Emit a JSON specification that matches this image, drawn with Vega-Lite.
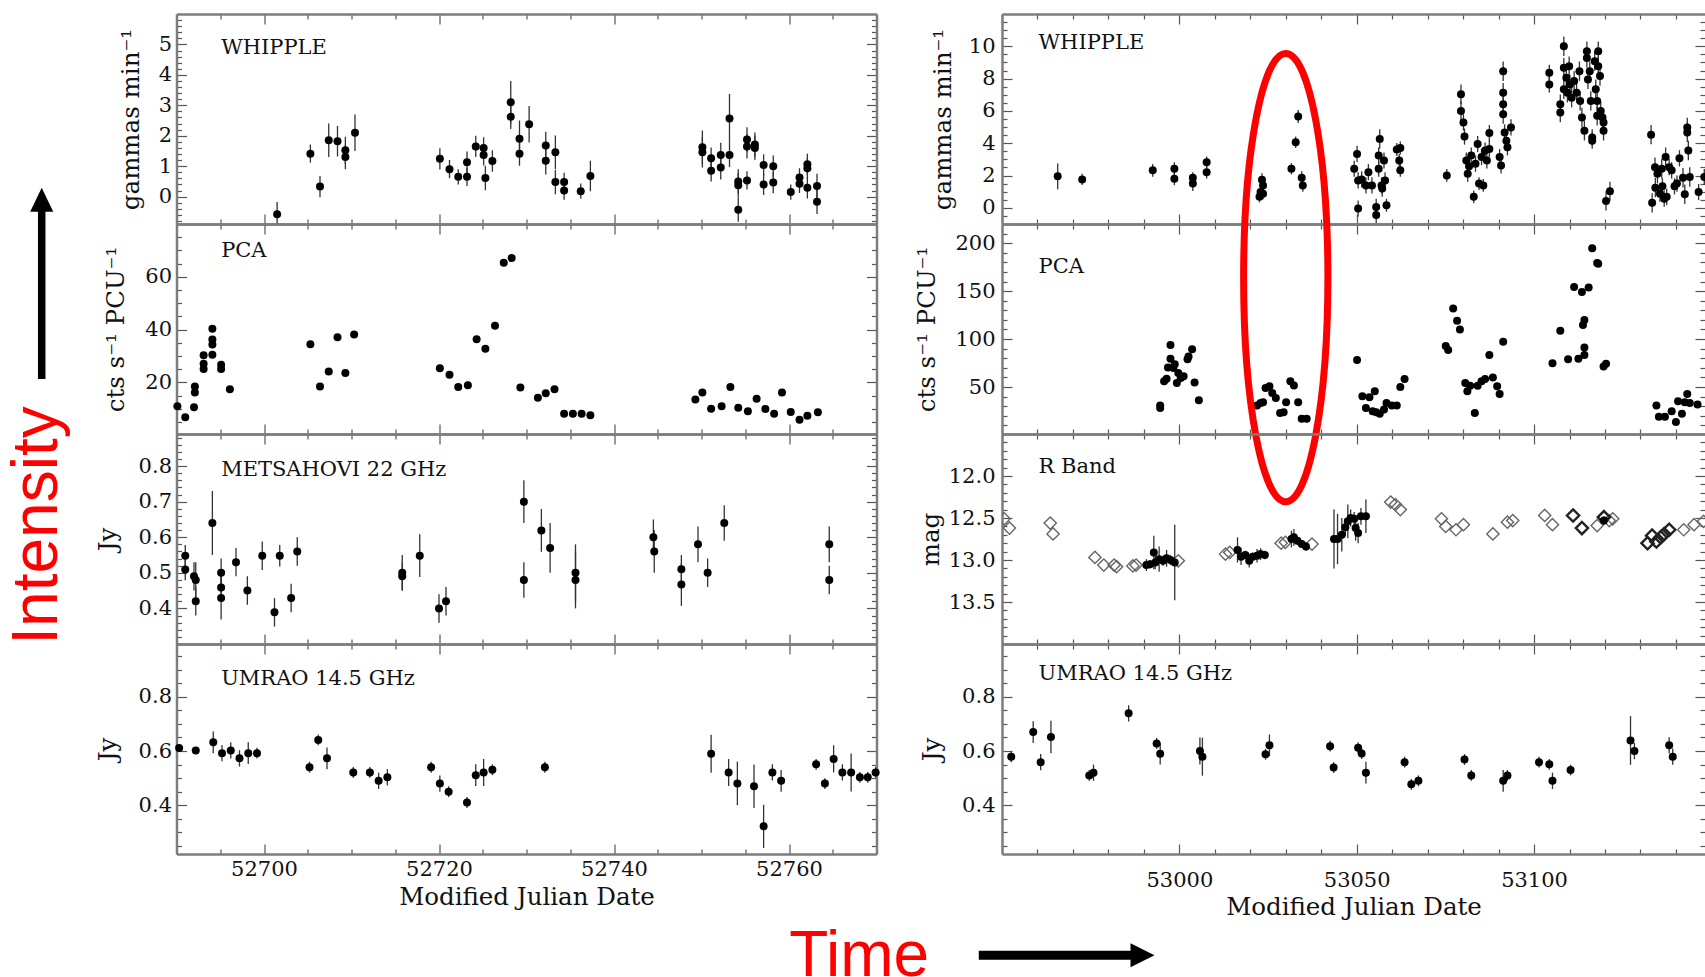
{
"$schema": "https://vega.github.io/schema/vega-lite/v6.json",
"padding": {"left": 0, "top": 9, "right": 0, "bottom": 0},
"background": "white",
"config": {
  "view": {"stroke": null},
  "axis": {"domainColor": "#7d7d7d", "domainWidth": 2.5, "tickColor": "#555", "tickWidth": 1.2, "labelFont": "DejaVu Serif", "labelFontSize": 21, "labelColor": "#111", "titleFont": "DejaVu Serif", "titleFontSize": 24.5, "titleFontWeight": "normal", "titleColor": "#111", "grid": false, "labelOverlap": false, "labelFlush": false, "labelBound": false}
},
"datasets": {
"lw": [
{"t":52701.5,"v":-0.58,"e":0.4},{"t":52705.3,"v":1.41,"e":0.3},{"t":52706.4,"v":0.33,"e":0.35},{"t":52707.4,"v":1.85,"e":0.55},{"t":52708.4,"v":1.82,"e":0.5},{"t":52709.3,"v":1.52,"e":0.45},{"t":52709.3,"v":1.30,"e":0.4},{"t":52710.4,"v":2.10,"e":0.6},
{"t":52720.1,"v":1.24,"e":0.35},{"t":52721.2,"v":0.90,"e":0.3},{"t":52722.2,"v":0.65,"e":0.25},{"t":52723.2,"v":0.65,"e":0.3},{"t":52723.2,"v":1.13,"e":0.35},{"t":52724.2,"v":1.65,"e":0.35},{"t":52725.1,"v":1.60,"e":0.35},{"t":52725.1,"v":1.37,"e":0.35},{"t":52725.3,"v":0.61,"e":0.4},{"t":52726.1,"v":1.17,"e":0.35},
{"t":52728.2,"v":3.10,"e":0.7},{"t":52728.2,"v":2.62,"e":0.4},{"t":52729.2,"v":1.90,"e":0.6},{"t":52729.2,"v":1.41,"e":0.4},{"t":52730.3,"v":2.38,"e":0.6},{"t":52732.2,"v":1.68,"e":0.45},{"t":52732.2,"v":1.18,"e":0.45},{"t":52733.3,"v":1.46,"e":0.55},{"t":52733.3,"v":0.48,"e":0.4},{"t":52734.3,"v":0.48,"e":0.3},{"t":52734.3,"v":0.20,"e":0.3},{"t":52736.2,"v":0.18,"e":0.25},{"t":52737.3,"v":0.68,"e":0.5},
{"t":52750.1,"v":1.62,"e":0.55},{"t":52750.1,"v":1.46,"e":0.5},{"t":52751.1,"v":1.26,"e":0.35},{"t":52751.1,"v":0.85,"e":0.35},{"t":52752.2,"v":1.37,"e":0.4},{"t":52752.2,"v":0.96,"e":0.4},{"t":52753.2,"v":2.57,"e":0.8},{"t":52753.2,"v":1.37,"e":0.4},{"t":52754.2,"v":0.37,"e":0.4},{"t":52754.2,"v":0.50,"e":0.4},{"t":52754.2,"v":-0.43,"e":0.4},{"t":52755.2,"v":1.88,"e":0.4},{"t":52755.2,"v":1.65,"e":0.4},{"t":52755.2,"v":0.53,"e":0.3},{"t":52756.1,"v":1.71,"e":0.4},{"t":52756.1,"v":1.60,"e":0.4},{"t":52757.1,"v":1.04,"e":0.35},{"t":52757.1,"v":0.40,"e":0.35},{"t":52758.2,"v":1.00,"e":0.35},{"t":52758.2,"v":0.46,"e":0.35},{"t":52760.2,"v":0.15,"e":0.25},{"t":52761.2,"v":0.42,"e":0.3},{"t":52761.2,"v":0.63,"e":0.3},{"t":52762.1,"v":1.06,"e":0.35},{"t":52762.1,"v":0.93,"e":0.35},{"t":52762.1,"v":0.29,"e":0.35},{"t":52763.2,"v":0.35,"e":0.4},{"t":52763.2,"v":-0.17,"e":0.4}
],
"lp": [
{"t":52690.1,"v":11.0},{"t":52691.0,"v":6.8},{"t":52692.0,"v":10.6},{"t":52692.1,"v":16.2},{"t":52692.1,"v":18.5},{"t":52693.1,"v":25.1},{"t":52693.1,"v":27.1},{"t":52693.1,"v":30.3},{"t":52694.1,"v":30.5},{"t":52694.1,"v":34.4},{"t":52694.1,"v":36.3},{"t":52694.1,"v":40.3},{"t":52695.1,"v":26.7},{"t":52695.1,"v":25.1},{"t":52696.1,"v":17.4},
{"t":52705.3,"v":34.5},{"t":52706.4,"v":18.5},{"t":52707.4,"v":24.2},{"t":52708.4,"v":37.1},{"t":52709.3,"v":23.6},{"t":52710.3,"v":38.2},
{"t":52720.1,"v":25.4},{"t":52721.2,"v":22.9},{"t":52722.2,"v":18.3},{"t":52723.3,"v":19.0},{"t":52724.3,"v":36.4},{"t":52725.3,"v":32.8},{"t":52726.4,"v":41.5},{"t":52727.4,"v":65.3},{"t":52728.3,"v":67.1},{"t":52729.3,"v":18.1},{"t":52731.3,"v":14.2},{"t":52732.2,"v":15.9},{"t":52733.2,"v":17.4},{"t":52734.3,"v":8.2},{"t":52735.3,"v":8.2},{"t":52736.3,"v":8.2},{"t":52737.3,"v":7.6},
{"t":52749.3,"v":13.6},{"t":52750.1,"v":16.2},{"t":52751.1,"v":10.1},{"t":52752.3,"v":11.0},{"t":52753.3,"v":18.3},{"t":52754.2,"v":10.4},{"t":52755.3,"v":9.1},{"t":52756.3,"v":13.8},{"t":52757.3,"v":10.0},{"t":52758.3,"v":8.2},{"t":52759.2,"v":16.2},{"t":52760.2,"v":8.8},{"t":52761.2,"v":5.9},{"t":52762.1,"v":7.4},{"t":52763.3,"v":8.7}
],
"lm": [
{"t":52691.0,"v":0.548,"e":0.03},{"t":52691.0,"v":0.509,"e":0.03},{"t":52692.0,"v":0.490,"e":0.04},{"t":52692.2,"v":0.480,"e":0.05},{"t":52692.2,"v":0.420,"e":0.04},{"t":52694.1,"v":0.640,"e":0.09},{"t":52695.1,"v":0.500,"e":0.04},{"t":52695.1,"v":0.459,"e":0.04},{"t":52695.1,"v":0.429,"e":0.06},{"t":52696.8,"v":0.530,"e":0.04},{"t":52698.1,"v":0.450,"e":0.04},{"t":52699.8,"v":0.548,"e":0.04},{"t":52701.2,"v":0.389,"e":0.04},{"t":52701.8,"v":0.548,"e":0.03},{"t":52703.1,"v":0.429,"e":0.04},{"t":52703.8,"v":0.560,"e":0.04},
{"t":52715.8,"v":0.500,"e":0.05},{"t":52715.8,"v":0.490,"e":0.04},{"t":52717.8,"v":0.548,"e":0.06},{"t":52720.0,"v":0.400,"e":0.04},{"t":52720.8,"v":0.420,"e":0.04},
{"t":52729.7,"v":0.700,"e":0.06},{"t":52729.7,"v":0.480,"e":0.05},{"t":52731.7,"v":0.619,"e":0.06},{"t":52732.7,"v":0.570,"e":0.07},{"t":52735.6,"v":0.500,"e":0.08},{"t":52735.6,"v":0.480,"e":0.08},
{"t":52744.5,"v":0.600,"e":0.05},{"t":52744.6,"v":0.560,"e":0.06},{"t":52747.7,"v":0.510,"e":0.04},{"t":52747.7,"v":0.467,"e":0.06},{"t":52749.6,"v":0.580,"e":0.05},{"t":52750.7,"v":0.500,"e":0.04},{"t":52752.6,"v":0.640,"e":0.05},{"t":52764.6,"v":0.580,"e":0.05},{"t":52764.6,"v":0.480,"e":0.04}
],
"lu": [
{"t":52690.3,"v":0.611,"e":0.01},{"t":52692.2,"v":0.602,"e":0.01},{"t":52694.2,"v":0.632,"e":0.04},{"t":52695.2,"v":0.592,"e":0.03},{"t":52696.2,"v":0.602,"e":0.03},{"t":52697.2,"v":0.573,"e":0.03},{"t":52698.2,"v":0.592,"e":0.04},{"t":52699.2,"v":0.592,"e":0.02},
{"t":52705.2,"v":0.540,"e":0.02},{"t":52706.2,"v":0.641,"e":0.02},{"t":52707.2,"v":0.573,"e":0.04},{"t":52710.2,"v":0.521,"e":0.02},{"t":52712.1,"v":0.521,"e":0.02},{"t":52713.1,"v":0.490,"e":0.03},{"t":52714.1,"v":0.503,"e":0.03},
{"t":52719.1,"v":0.540,"e":0.02},{"t":52720.1,"v":0.480,"e":0.03},{"t":52721.1,"v":0.450,"e":0.02},{"t":52723.2,"v":0.410,"e":0.02},{"t":52724.2,"v":0.511,"e":0.04},{"t":52725.1,"v":0.521,"e":0.05},{"t":52726.1,"v":0.531,"e":0.02},{"t":52732.1,"v":0.540,"e":0.02},
{"t":52751.1,"v":0.590,"e":0.07},{"t":52753.1,"v":0.521,"e":0.05},{"t":52754.1,"v":0.480,"e":0.08},{"t":52756.0,"v":0.470,"e":0.08},{"t":52757.1,"v":0.322,"e":0.08},{"t":52758.1,"v":0.521,"e":0.03},{"t":52759.1,"v":0.490,"e":0.04},
{"t":52763.1,"v":0.551,"e":0.02},{"t":52764.1,"v":0.480,"e":0.02},{"t":52765.1,"v":0.571,"e":0.05},{"t":52766.1,"v":0.521,"e":0.03},{"t":52767.1,"v":0.521,"e":0.07},{"t":52768.1,"v":0.503,"e":0.02},{"t":52769.0,"v":0.503,"e":0.02},{"t":52769.9,"v":0.521,"e":0.02}
],
"rw": [
{"t":52965.7,"v":1.95,"e":0.8},{"t":52972.6,"v":1.76,"e":0.35},{"t":52992.5,"v":2.32,"e":0.4},{"t":52998.6,"v":2.42,"e":0.4},{"t":52998.6,"v":1.80,"e":0.4},{"t":53003.8,"v":1.86,"e":0.35},{"t":53003.8,"v":1.50,"e":0.45},{"t":53007.7,"v":2.83,"e":0.35},{"t":53007.7,"v":2.21,"e":0.4},
{"t":53022.6,"v":0.68,"e":0.35},{"t":53022.9,"v":0.98,"e":0.35},{"t":53023.3,"v":1.74,"e":0.4},{"t":53023.6,"v":1.39,"e":0.4},{"t":53023.6,"v":0.88,"e":0.35},{"t":53031.6,"v":2.42,"e":0.35},{"t":53032.8,"v":4.06,"e":0.35},{"t":53033.5,"v":5.66,"e":0.4},{"t":53034.5,"v":1.86,"e":0.4},{"t":53034.8,"v":1.39,"e":0.4},
{"t":53049.3,"v":2.42,"e":0.5},{"t":53050.1,"v":3.34,"e":0.5},{"t":53050.4,"v":1.70,"e":0.5},{"t":53050.4,"v":-0.04,"e":0.5},{"t":53051.4,"v":1.76,"e":0.5},{"t":53052.6,"v":1.39,"e":0.5},{"t":53053.3,"v":2.21,"e":0.5},{"t":53054.3,"v":1.39,"e":0.5},{"t":53055.5,"v":0.06,"e":0.5},{"t":53055.5,"v":-0.45,"e":0.5},{"t":53056.2,"v":2.42,"e":0.5},{"t":53056.2,"v":3.24,"e":0.5},{"t":53056.5,"v":4.26,"e":0.6},{"t":53057.0,"v":1.39,"e":0.5},{"t":53057.2,"v":1.19,"e":0.5},{"t":53057.7,"v":2.93,"e":0.5},{"t":53058.0,"v":1.70,"e":0.5},{"t":53058.4,"v":0.16,"e":0.4},{"t":53061.3,"v":3.61,"e":0.4},{"t":53062.0,"v":2.93,"e":0.4},{"t":53062.3,"v":3.71,"e":0.4},{"t":53062.3,"v":2.32,"e":0.4},
{"t":53075.4,"v":2.01,"e":0.4},{"t":53079.4,"v":7.03,"e":0.6},{"t":53079.4,"v":6.00,"e":0.6},{"t":53080.1,"v":5.29,"e":0.5},{"t":53080.4,"v":4.41,"e":0.5},{"t":53080.9,"v":2.93,"e":0.5},{"t":53081.3,"v":2.11,"e":0.5},{"t":53081.7,"v":2.58,"e":0.5},{"t":53082.3,"v":3.24,"e":0.5},{"t":53083.0,"v":0.68,"e":0.4},{"t":53083.5,"v":2.73,"e":0.5},{"t":53084.1,"v":3.95,"e":0.5},{"t":53084.5,"v":1.50,"e":0.4},{"t":53085.2,"v":3.14,"e":0.5},{"t":53085.7,"v":1.39,"e":0.4},{"t":53086.2,"v":3.55,"e":0.5},{"t":53086.7,"v":2.93,"e":0.5},{"t":53087.4,"v":4.63,"e":0.5},{"t":53087.4,"v":3.65,"e":0.5},{"t":53090.3,"v":3.14,"e":0.5},{"t":53090.7,"v":2.62,"e":0.5},{"t":53091.3,"v":8.46,"e":0.6},{"t":53091.3,"v":7.13,"e":0.6},{"t":53091.3,"v":6.41,"e":0.6},{"t":53091.3,"v":5.80,"e":0.6},{"t":53091.7,"v":4.67,"e":0.5},{"t":53092.2,"v":4.16,"e":0.5},{"t":53092.5,"v":3.75,"e":0.5},{"t":53093.5,"v":4.98,"e":0.5},
{"t":53104.3,"v":8.36,"e":0.5},{"t":53104.3,"v":7.64,"e":0.5},{"t":53107.4,"v":5.90,"e":0.6},{"t":53107.4,"v":6.41,"e":0.6},{"t":53108.4,"v":10.00,"e":0.6},{"t":53108.4,"v":8.67,"e":0.6},{"t":53108.4,"v":7.34,"e":0.6},{"t":53109.1,"v":8.05,"e":0.6},{"t":53109.4,"v":7.13,"e":0.6},{"t":53109.9,"v":8.77,"e":0.6},{"t":53110.1,"v":7.64,"e":0.6},{"t":53110.6,"v":6.82,"e":0.6},{"t":53111.3,"v":7.85,"e":0.6},{"t":53112.0,"v":7.13,"e":0.6},{"t":53112.8,"v":8.46,"e":0.6},{"t":53113.0,"v":6.62,"e":0.6},{"t":53113.5,"v":5.59,"e":0.6},{"t":53114.2,"v":4.77,"e":0.6},{"t":53114.9,"v":9.69,"e":0.6},{"t":53114.9,"v":9.28,"e":0.6},{"t":53115.2,"v":7.95,"e":0.6},{"t":53115.7,"v":8.46,"e":0.6},{"t":53116.0,"v":6.62,"e":0.6},{"t":53116.4,"v":4.36,"e":0.5},{"t":53116.4,"v":4.16,"e":0.5},{"t":53117.1,"v":9.08,"e":0.6},{"t":53117.4,"v":7.34,"e":0.6},{"t":53117.8,"v":6.62,"e":0.6},{"t":53117.8,"v":5.70,"e":0.6},{"t":53118.1,"v":9.69,"e":0.6},{"t":53118.1,"v":8.77,"e":0.6},{"t":53118.6,"v":8.16,"e":0.6},{"t":53118.8,"v":6.00,"e":0.6},{"t":53119.3,"v":5.59,"e":0.6},{"t":53119.6,"v":4.77,"e":0.6},{"t":53119.6,"v":5.29,"e":0.6},{"t":53120.3,"v":0.43,"e":0.6},{"t":53121.4,"v":1.02,"e":0.6},
{"t":53133.0,"v":4.53,"e":0.6},{"t":53133.3,"v":0.31,"e":0.6},{"t":53134.1,"v":2.52,"e":0.6},{"t":53134.2,"v":1.25,"e":0.6},{"t":53134.8,"v":2.11,"e":0.6},{"t":53135.5,"v":0.88,"e":0.5},{"t":53136.0,"v":2.42,"e":0.6},{"t":53136.2,"v":1.33,"e":0.5},{"t":53136.7,"v":0.57,"e":0.5},{"t":53137.1,"v":3.14,"e":0.6},{"t":53137.4,"v":0.68,"e":0.5},{"t":53138.1,"v":2.52,"e":0.5},{"t":53138.8,"v":2.32,"e":0.5},{"t":53139.6,"v":1.33,"e":0.5},{"t":53140.3,"v":1.50,"e":0.5},{"t":53141.0,"v":3.07,"e":0.5},{"t":53142.0,"v":1.86,"e":0.6},{"t":53142.5,"v":0.84,"e":0.6},{"t":53143.2,"v":4.98,"e":0.6},{"t":53143.2,"v":4.67,"e":0.6},{"t":53143.5,"v":3.55,"e":0.6},{"t":53143.9,"v":1.91,"e":0.6},{"t":53146.4,"v":0.98,"e":0.5},{"t":53148.0,"v":1.91,"e":0.5}
],
"rp": [
{"t":52994.6,"v":30.6},{"t":52994.6,"v":28.2},{"t":52995.7,"v":55.9},{"t":52996.4,"v":58.6},{"t":52996.8,"v":70.4},{"t":52997.5,"v":93.9},{"t":52997.5,"v":79.4},{"t":52998.3,"v":69.7},{"t":52998.7,"v":73.8},{"t":52999.3,"v":54.1},{"t":52999.7,"v":64.5},{"t":53000.4,"v":59.3},{"t":53001.2,"v":61.1},{"t":53002.3,"v":79.0},{"t":53002.6,"v":81.8},{"t":53003.6,"v":89.4},{"t":53004.3,"v":54.8},{"t":53005.5,"v":36.2},
{"t":53021.9,"v":30.6},{"t":53022.9,"v":33.4},{"t":53023.6,"v":34.1},{"t":53024.3,"v":49.0},{"t":53025.4,"v":50.7},{"t":53026.2,"v":43.8},{"t":53027.2,"v":38.6},{"t":53028.4,"v":23.0},{"t":53029.4,"v":23.7},{"t":53030.1,"v":34.1},{"t":53031.3,"v":55.9},{"t":53032.3,"v":51.7},{"t":53033.5,"v":34.1},{"t":53034.5,"v":16.8},{"t":53035.9,"v":16.8},
{"t":53050.1,"v":78.3},{"t":53051.6,"v":40.3},{"t":53052.6,"v":28.2},{"t":53053.6,"v":39.3},{"t":53054.5,"v":24.8},{"t":53055.1,"v":45.5},{"t":53055.5,"v":23.7},{"t":53056.5,"v":22.0},{"t":53057.7,"v":26.5},{"t":53058.4,"v":33.4},{"t":53059.9,"v":30.6},{"t":53061.3,"v":30.6},{"t":53062.3,"v":50.0},{"t":53063.5,"v":58.3},
{"t":53075.1,"v":92.8},{"t":53075.8,"v":88.7},{"t":53077.2,"v":131.9},{"t":53078.3,"v":119.1},{"t":53079.1,"v":110.1},{"t":53080.6,"v":54.1},{"t":53081.2,"v":45.5},{"t":53082.0,"v":51.4},{"t":53083.3,"v":23.0},{"t":53084.1,"v":51.4},{"t":53085.2,"v":55.9},{"t":53086.2,"v":58.3},{"t":53087.4,"v":83.5},{"t":53088.4,"v":60.0},{"t":53089.6,"v":50.7},{"t":53090.3,"v":42.7},{"t":53091.3,"v":97.3},
{"t":53105.2,"v":74.9},{"t":53107.4,"v":108.7},{"t":53109.6,"v":79.0},{"t":53111.3,"v":154.4},{"t":53112.5,"v":79.4},{"t":53113.5,"v":149.2},{"t":53113.8,"v":114.6},{"t":53114.2,"v":119.8},{"t":53114.2,"v":91.1},{"t":53114.2,"v":83.5},{"t":53115.4,"v":153.7},{"t":53116.4,"v":194.8},{"t":53117.8,"v":179.2},{"t":53118.1,"v":178.5},{"t":53119.6,"v":71.4},{"t":53120.3,"v":74.2},
{"t":53134.5,"v":30.6},{"t":53135.2,"v":18.9},{"t":53136.9,"v":18.9},{"t":53138.8,"v":24.8},{"t":53140.0,"v":13.4},{"t":53140.6,"v":35.1},{"t":53141.7,"v":22.0},{"t":53142.5,"v":34.1},{"t":53143.2,"v":42.7},{"t":53143.9,"v":33.4},{"t":53146.1,"v":31.7}
],
"rr": [
{"t":52990.7,"v":13.06,"e":0.07},{"t":52991.7,"v":13.05,"e":0.05},{"t":52992.8,"v":12.91,"e":0.2},{"t":52993.2,"v":13.03,"e":0.08},{"t":52994.3,"v":12.99,"e":0.15},{"t":52995.4,"v":13.01,"e":0.06},{"t":52996.4,"v":12.98,"e":0.1},{"t":52997.5,"v":13.00,"e":0.06},{"t":52998.7,"v":13.03,"e":0.45},
{"t":53016.4,"v":12.88,"e":0.15},{"t":53017.4,"v":12.96,"e":0.1},{"t":53018.6,"v":12.94,"e":0.05},{"t":53019.7,"v":13.01,"e":0.08},{"t":53020.7,"v":12.96,"e":0.05},{"t":53021.9,"v":12.95,"e":0.08},{"t":53022.9,"v":12.93,"e":0.07},{"t":53024.1,"v":12.94,"e":0.05},
{"t":53031.6,"v":12.75,"e":0.1},{"t":53032.3,"v":12.73,"e":0.1},{"t":53033.3,"v":12.77,"e":0.05},{"t":53034.5,"v":12.81,"e":0.04},{"t":53035.7,"v":12.84,"e":0.05},
{"t":53043.6,"v":12.75,"e":0.35},{"t":53044.6,"v":12.75,"e":0.3},{"t":53045.8,"v":12.70,"e":0.2},{"t":53046.8,"v":12.61,"e":0.1},{"t":53047.5,"v":12.54,"e":0.2},{"t":53048.3,"v":12.50,"e":0.1},{"t":53049.3,"v":12.51,"e":0.08},{"t":53049.7,"v":12.62,"e":0.15},{"t":53050.4,"v":12.68,"e":0.12},{"t":53051.2,"v":12.48,"e":0.1},{"t":53052.6,"v":12.48,"e":0.2},{"t":53119.7,"v":12.53,"e":0.05}
],
"rdo": [
{"t":52950.6,"v":12.51},{"t":52952.1,"v":12.62},{"t":52963.6,"v":12.56},{"t":52964.4,"v":12.69},{"t":52976.2,"v":12.97},{"t":52978.7,"v":13.06},{"t":52981.6,"v":13.06},{"t":52982.3,"v":13.08},{"t":52986.9,"v":13.07},{"t":52987.8,"v":13.06},{"t":52999.7,"v":13.01},{"t":53013.0,"v":12.93},{"t":53014.2,"v":12.91},{"t":53028.7,"v":12.80},{"t":53029.9,"v":12.79},{"t":53037.4,"v":12.81},{"t":53059.6,"v":12.31},{"t":53060.9,"v":12.34},{"t":53062.3,"v":12.40},{"t":53073.9,"v":12.51},{"t":53075.1,"v":12.60},{"t":53078.0,"v":12.64},{"t":53080.1,"v":12.58},{"t":53088.4,"v":12.69},{"t":53092.5,"v":12.55},{"t":53094.0,"v":12.53},{"t":53103.0,"v":12.47},{"t":53105.2,"v":12.58},{"t":53117.8,"v":12.59},{"t":53121.2,"v":12.53},{"t":53122.2,"v":12.51},{"t":53142.2,"v":12.64},{"t":53145.1,"v":12.58},{"t":53147.8,"v":12.54}
],
"rdd": [
{"t":53111.0,"v":12.47},{"t":53113.5,"v":12.62},{"t":53119.7,"v":12.49},{"t":53132.0,"v":12.80},{"t":53133.3,"v":12.71},{"t":53134.5,"v":12.78},{"t":53135.7,"v":12.73},{"t":53136.7,"v":12.69},{"t":53138.1,"v":12.64}
],
"ru": [
{"t":52952.6,"v":0.579,"e":0.02},{"t":52958.8,"v":0.670,"e":0.04},{"t":52960.9,"v":0.559,"e":0.03},{"t":52963.8,"v":0.652,"e":0.06},{"t":52974.6,"v":0.510,"e":0.02},{"t":52975.8,"v":0.520,"e":0.03},{"t":52985.7,"v":0.739,"e":0.03},{"t":52993.6,"v":0.628,"e":0.02},{"t":52994.6,"v":0.590,"e":0.04},{"t":53005.8,"v":0.600,"e":0.05},{"t":53006.5,"v":0.579,"e":0.07},{"t":53024.3,"v":0.588,"e":0.02},{"t":53025.4,"v":0.621,"e":0.04},{"t":53042.5,"v":0.618,"e":0.02},{"t":53043.5,"v":0.539,"e":0.02},{"t":53050.4,"v":0.612,"e":0.02},{"t":53051.4,"v":0.591,"e":0.02},{"t":53052.6,"v":0.520,"e":0.04},{"t":53063.5,"v":0.559,"e":0.02},{"t":53065.4,"v":0.477,"e":0.02},{"t":53067.4,"v":0.490,"e":0.02},{"t":53080.4,"v":0.569,"e":0.02},{"t":53082.3,"v":0.510,"e":0.02},{"t":53091.3,"v":0.490,"e":0.04},{"t":53092.5,"v":0.510,"e":0.02},{"t":53101.4,"v":0.559,"e":0.02},{"t":53104.3,"v":0.551,"e":0.02},{"t":53105.2,"v":0.490,"e":0.03},{"t":53110.3,"v":0.530,"e":0.02},{"t":53127.2,"v":0.639,"e":0.09},{"t":53128.3,"v":0.600,"e":0.03},{"t":53138.1,"v":0.621,"e":0.03},{"t":53139.1,"v":0.579,"e":0.03}
]
},
"columns": 3,
"align": "each",
"bounds": "flush",
"spacing": {"row": 0, "column": 125.5},
"concat": [
  {"width": 50.5, "height": 210,
   "data": {"values": [{"s": "Intensity"}]},
   "layer": [
    {"mark": {"type": "rule", "color": "#000", "strokeWidth": 7.5},
     "encoding": {"x": {"datum": 0.826, "type": "quantitative", "scale": {"domain": [0, 1], "nice": false, "zero": false}, "axis": null},
                  "y": {"datum": -0.7381, "type": "quantitative", "scale": {"domain": [0, 1], "nice": false, "zero": false}, "axis": null},
                  "y2": {"datum": 0.0905}}},
    {"mark": {"type": "point", "shape": "M0,-1L0.96,1L-0.96,1Z", "size": 576, "filled": true, "color": "#000", "opacity": 1},
     "encoding": {"x": {"datum": 0.826, "type": "quantitative", "scale": {"domain": [0, 1], "nice": false, "zero": false}, "axis": null},
                  "y": {"datum": 0.1157, "type": "quantitative", "scale": {"domain": [0, 1], "nice": false, "zero": false}, "axis": null}}},
    {"mark": {"type": "text", "angle": 270, "font": "Liberation Sans", "fontSize": 64, "color": "#ff0000", "align": "center", "baseline": "alphabetic"},
     "encoding": {"x": {"datum": 1.123, "type": "quantitative", "scale": {"domain": [0, 1], "nice": false, "zero": false}, "axis": null},
                  "y": {"datum": -1.4357, "type": "quantitative", "scale": {"domain": [0, 1], "nice": false, "zero": false}, "axis": null},
                  "text": {"field": "s"}}}
   ]},
  {"width": 700, "height": 210,
   "layer": [
    {"data": {"name": "lw"}, "transform": [{"filter": "datum.e > 0"}],
     "mark": {"type": "errorbar", "color": "#333", "thickness": 1.3, "clip": true},
     "encoding": {"x": {"field": "t", "type": "quantitative", "scale": {"domain": [52690, 52770], "nice": false, "zero": false}, "axis": null},
                  "y": {"field": "v", "type": "quantitative", "scale": {"domain": [-0.9, 6.0], "nice": false, "zero": false}, "axis": null},
                  "yError": {"field": "e"}}},
    {"data": {"name": "lw"},
     "mark": {"type": "point", "filled": true, "size": 64, "color": "#000", "opacity": 1},
     "encoding": {"x": {"field": "t", "type": "quantitative", "scale": {"domain": [52690, 52770], "nice": false, "zero": false},
                        "axis": {"orient": "bottom", "values": [52690,52695,52700,52705,52710,52715,52720,52725,52730,52735,52740,52745,52750,52755,52760,52765,52770], "labels": false, "title": null, "tickSize": {"condition": {"test": "datum.value % 20 === 0", "value": -10}, "value": -5}}},
                  "y": {"field": "v", "type": "quantitative", "scale": {"domain": [-0.9, 6.0], "nice": false, "zero": false},
                        "axis": {"orient": "left", "values": [-0.8,-0.6,-0.4,-0.2,0,0.2,0.4,0.6,0.8,1,1.2,1.4,1.6,1.8,2,2.2,2.4,2.6,2.8,3,3.2,3.4,3.6,3.8,4,4.2,4.4,4.6,4.8,5,5.2,5.4,5.6,5.8], "format": ".0f", "labelOverlap": false, "labelExpr": "abs(datum.value - round(datum.value)) < 0.001 ? datum.label : ''", "tickSize": {"condition": {"test": "abs(datum.value - round(datum.value)) < 0.001", "value": -10}, "value": -5}, "labelPadding": 15, "title": "gammas min\u207b\u00b9", "titlePadding": 15}}}},
    {"data": {"name": "lw"},
     "mark": {"type": "point", "opacity": 0},
     "encoding": {"x": {"field": "t", "type": "quantitative", "scale": {"domain": [52690, 52770], "nice": false, "zero": false},
                        "axis": {"orient": "top", "values": [52690,52695,52700,52705,52710,52715,52720,52725,52730,52735,52740,52745,52750,52755,52760,52765,52770], "labels": false, "title": null, "tickSize": {"condition": {"test": "datum.value % 20 === 0", "value": -10}, "value": -5}}},
                  "y": {"field": "v", "type": "quantitative", "scale": {"domain": [-0.9, 6.0], "nice": false, "zero": false},
                        "axis": {"orient": "right", "values": [-0.8,-0.6,-0.4,-0.2,0,0.2,0.4,0.6,0.8,1,1.2,1.4,1.6,1.8,2,2.2,2.4,2.6,2.8,3,3.2,3.4,3.6,3.8,4,4.2,4.4,4.6,4.8,5,5.2,5.4,5.6,5.8], "labels": false, "title": null, "tickSize": {"condition": {"test": "abs(datum.value - round(datum.value)) < 0.001", "value": -10}, "value": -5}}}}},
    {"data": {"values": [{"s": "WHIPPLE"}]},
     "mark": {"type": "text", "align": "left", "baseline": "middle", "font": "DejaVu Serif", "fontSize": 21, "color": "#111"},
     "encoding": {"x": {"datum": 52695.1, "type": "quantitative", "scale": {"domain": [52690, 52770], "nice": false, "zero": false}, "axis": null},
                  "y": {"datum": 4.89, "type": "quantitative", "scale": {"domain": [-0.9, 6.0], "nice": false, "zero": false}, "axis": null},
                  "text": {"field": "s"}}}
   ],
   "resolve": {"axis": {"x": "independent", "y": "independent"}}},
  {"width": 703, "height": 210,
   "layer": [
    {"data": {"name": "rw"}, "transform": [{"filter": "datum.e > 0"}],
     "mark": {"type": "errorbar", "color": "#333", "thickness": 1.3, "clip": true},
     "encoding": {"x": {"field": "t", "type": "quantitative", "scale": {"domain": [52950, 53148.2], "nice": false, "zero": false}, "axis": null},
                  "y": {"field": "v", "type": "quantitative", "scale": {"domain": [-1, 12], "nice": false, "zero": false}, "axis": null},
                  "yError": {"field": "e"}}},
    {"data": {"name": "rw"},
     "mark": {"type": "point", "filled": true, "size": 64, "color": "#000", "opacity": 1, "clip": true},
     "encoding": {"x": {"field": "t", "type": "quantitative", "scale": {"domain": [52950, 53148.2], "nice": false, "zero": false},
                        "axis": {"orient": "bottom", "values": [52950,52960,52970,52980,52990,53000,53010,53020,53030,53040,53050,53060,53070,53080,53090,53100,53110,53120,53130,53140], "labels": false, "title": null, "tickSize": {"condition": {"test": "datum.value % 50 === 0", "value": -10}, "value": -5}}},
                  "y": {"field": "v", "type": "quantitative", "scale": {"domain": [-1, 12], "nice": false, "zero": false},
                        "axis": {"orient": "left", "values": [-0.5,0,0.5,1,1.5,2,2.5,3,3.5,4,4.5,5,5.5,6,6.5,7,7.5,8,8.5,9,9.5,10,10.5,11,11.5], "format": ".0f", "labelOverlap": false, "labelExpr": "datum.value % 2 === 0 ? datum.label : ''", "tickSize": {"condition": {"test": "datum.value % 2 === 0", "value": -10}, "value": -5}, "labelPadding": 17, "title": "gammas min\u207b\u00b9", "titlePadding": 13}}}},
    {"data": {"name": "rw"},
     "mark": {"type": "point", "opacity": 0},
     "encoding": {"x": {"field": "t", "type": "quantitative", "scale": {"domain": [52950, 53148.2], "nice": false, "zero": false},
                        "axis": {"orient": "top", "values": [52950,52960,52970,52980,52990,53000,53010,53020,53030,53040,53050,53060,53070,53080,53090,53100,53110,53120,53130,53140], "labels": false, "title": null, "tickSize": {"condition": {"test": "datum.value % 50 === 0", "value": -10}, "value": -5}}},
                  "y": {"field": "v", "type": "quantitative", "scale": {"domain": [-1, 12], "nice": false, "zero": false},
                        "axis": {"orient": "right", "domain": false, "values": [-0.5,0,0.5,1,1.5,2,2.5,3,3.5,4,4.5,5,5.5,6,6.5,7,7.5,8,8.5,9,9.5,10,10.5,11,11.5], "labels": false, "title": null, "tickSize": {"condition": {"test": "datum.value % 2 === 0", "value": -10}, "value": -5}}}}},
    {"data": {"values": [{"s": "WHIPPLE"}]},
     "mark": {"type": "text", "align": "left", "baseline": "middle", "font": "DejaVu Serif", "fontSize": 21, "color": "#111"},
     "encoding": {"x": {"datum": 52960.3, "type": "quantitative", "scale": {"domain": [52950, 53148.2], "nice": false, "zero": false}, "axis": null},
                  "y": {"datum": 10.2, "type": "quantitative", "scale": {"domain": [-1, 12], "nice": false, "zero": false}, "axis": null},
                  "text": {"field": "s"}}}
   ],
   "resolve": {"axis": {"x": "independent", "y": "independent"}}},
  {"width": 50.5, "height": 210, "data": {"values": []}, "mark": "point"},
  {"width": 700, "height": 210,
   "layer": [
    {"data": {"name": "lp"},
     "mark": {"type": "point", "filled": true, "size": 64, "color": "#000", "opacity": 1},
     "encoding": {"x": {"field": "t", "type": "quantitative", "scale": {"domain": [52690, 52770], "nice": false, "zero": false},
                        "axis": {"orient": "bottom", "values": [52690,52695,52700,52705,52710,52715,52720,52725,52730,52735,52740,52745,52750,52755,52760,52765,52770], "labels": false, "title": null, "tickSize": {"condition": {"test": "datum.value % 20 === 0", "value": -10}, "value": -5}}},
                  "y": {"field": "v", "type": "quantitative", "scale": {"domain": [0.5, 80], "nice": false, "zero": false},
                        "axis": {"orient": "left", "values": [5,10,15,20,25,30,35,40,45,50,55,60,65,70,75], "format": ".0f", "labelOverlap": false, "labelExpr": "datum.value % 20 === 0 ? datum.label : ''", "tickSize": {"condition": {"test": "datum.value % 20 === 0", "value": -10}, "value": -5}, "labelPadding": 15, "title": "cts s\u207b\u00b9 PCU\u207b\u00b9", "titlePadding": 16}}}},
    {"data": {"name": "lp"},
     "mark": {"type": "point", "opacity": 0},
     "encoding": {"x": {"field": "t", "type": "quantitative", "scale": {"domain": [52690, 52770], "nice": false, "zero": false},
                        "axis": {"orient": "top", "values": [52690,52695,52700,52705,52710,52715,52720,52725,52730,52735,52740,52745,52750,52755,52760,52765,52770], "labels": false, "title": null, "tickSize": {"condition": {"test": "datum.value % 20 === 0", "value": -10}, "value": -5}}},
                  "y": {"field": "v", "type": "quantitative", "scale": {"domain": [0.5, 80], "nice": false, "zero": false},
                        "axis": {"orient": "right", "values": [5,10,15,20,25,30,35,40,45,50,55,60,65,70,75], "labels": false, "title": null, "tickSize": {"condition": {"test": "datum.value % 20 === 0", "value": -10}, "value": -5}}}}},
    {"data": {"values": [{"s": "PCA"}]},
     "mark": {"type": "text", "align": "left", "baseline": "middle", "font": "DejaVu Serif", "fontSize": 21, "color": "#111"},
     "encoding": {"x": {"datum": 52695.1, "type": "quantitative", "scale": {"domain": [52690, 52770], "nice": false, "zero": false}, "axis": null},
                  "y": {"datum": 69.85, "type": "quantitative", "scale": {"domain": [0.5, 80], "nice": false, "zero": false}, "axis": null},
                  "text": {"field": "s"}}}
   ],
   "resolve": {"axis": {"x": "independent", "y": "independent"}}},
  {"width": 703, "height": 210,
   "layer": [
    {"data": {"name": "rp"},
     "mark": {"type": "point", "filled": true, "size": 64, "color": "#000", "opacity": 1, "clip": true},
     "encoding": {"x": {"field": "t", "type": "quantitative", "scale": {"domain": [52950, 53148.2], "nice": false, "zero": false},
                        "axis": {"orient": "bottom", "values": [52950,52960,52970,52980,52990,53000,53010,53020,53030,53040,53050,53060,53070,53080,53090,53100,53110,53120,53130,53140], "labels": false, "title": null, "tickSize": {"condition": {"test": "datum.value % 50 === 0", "value": -10}, "value": -5}}},
                  "y": {"field": "v", "type": "quantitative", "scale": {"domain": [1, 220], "nice": false, "zero": false},
                        "axis": {"orient": "left", "values": [10,20,30,40,50,60,70,80,90,100,110,120,130,140,150,160,170,180,190,200,210], "format": ".0f", "labelOverlap": false, "labelExpr": "datum.value % 50 === 0 ? datum.label : ''", "tickSize": {"condition": {"test": "datum.value % 50 === 0", "value": -10}, "value": -5}, "labelPadding": 17, "title": "cts s\u207b\u00b9 PCU\u207b\u00b9", "titlePadding": 15}}}},
    {"data": {"name": "rp"},
     "mark": {"type": "point", "opacity": 0},
     "encoding": {"x": {"field": "t", "type": "quantitative", "scale": {"domain": [52950, 53148.2], "nice": false, "zero": false},
                        "axis": {"orient": "top", "values": [52950,52960,52970,52980,52990,53000,53010,53020,53030,53040,53050,53060,53070,53080,53090,53100,53110,53120,53130,53140], "labels": false, "title": null, "tickSize": {"condition": {"test": "datum.value % 50 === 0", "value": -10}, "value": -5}}},
                  "y": {"field": "v", "type": "quantitative", "scale": {"domain": [1, 220], "nice": false, "zero": false},
                        "axis": {"orient": "right", "domain": false, "values": [10,20,30,40,50,60,70,80,90,100,110,120,130,140,150,160,170,180,190,200,210], "labels": false, "title": null, "tickSize": {"condition": {"test": "datum.value % 50 === 0", "value": -10}, "value": -5}}}}},
    {"data": {"values": [{"s": "PCA"}]},
     "mark": {"type": "text", "align": "left", "baseline": "middle", "font": "DejaVu Serif", "fontSize": 21, "color": "#111"},
     "encoding": {"x": {"datum": 52960.3, "type": "quantitative", "scale": {"domain": [52950, 53148.2], "nice": false, "zero": false}, "axis": null},
                  "y": {"datum": 175.3, "type": "quantitative", "scale": {"domain": [1, 220], "nice": false, "zero": false}, "axis": null},
                  "text": {"field": "s"}}},
    {"data": {"values": [{"s": "highlight"}]},
     "mark": {"type": "point", "shape": "M0,-1C0.1038,-1,0.188,-0.5523,0.188,0C0.188,0.5523,0.1038,1,0,1C-0.1038,1,-0.188,0.5523,-0.188,0C-0.188,-0.5523,-0.1038,-1,0,-1Z", "size": 200973, "filled": false, "stroke": "#ff0000", "strokeWidth": 7, "opacity": 1},
     "encoding": {"x": {"datum": 53030.0, "type": "quantitative", "scale": {"domain": [52950, 53148.2], "nice": false, "zero": false}, "axis": null},
                  "y": {"datum": 164.0, "type": "quantitative", "scale": {"domain": [1, 220], "nice": false, "zero": false}, "axis": null}}}
   ],
   "resolve": {"axis": {"x": "independent", "y": "independent"}}},
  {"width": 50.5, "height": 210, "data": {"values": []}, "mark": "point"},
  {"width": 700, "height": 210,
   "layer": [
    {"data": {"name": "lm"}, "transform": [{"filter": "datum.e > 0"}],
     "mark": {"type": "errorbar", "color": "#333", "thickness": 1.3, "clip": true},
     "encoding": {"x": {"field": "t", "type": "quantitative", "scale": {"domain": [52690, 52770], "nice": false, "zero": false}, "axis": null},
                  "y": {"field": "v", "type": "quantitative", "scale": {"domain": [0.3, 0.89], "nice": false, "zero": false}, "axis": null},
                  "yError": {"field": "e"}}},
    {"data": {"name": "lm"},
     "mark": {"type": "point", "filled": true, "size": 64, "color": "#000", "opacity": 1},
     "encoding": {"x": {"field": "t", "type": "quantitative", "scale": {"domain": [52690, 52770], "nice": false, "zero": false},
                        "axis": {"orient": "bottom", "values": [52690,52695,52700,52705,52710,52715,52720,52725,52730,52735,52740,52745,52750,52755,52760,52765,52770], "labels": false, "title": null, "tickSize": {"condition": {"test": "datum.value % 20 === 0", "value": -10}, "value": -5}}},
                  "y": {"field": "v", "type": "quantitative", "scale": {"domain": [0.3, 0.89], "nice": false, "zero": false},
                        "axis": {"orient": "left", "values": [0.32,0.34,0.36,0.38,0.4,0.42,0.44,0.46,0.48,0.5,0.52,0.54,0.56,0.58,0.6,0.62,0.64,0.66,0.68,0.7,0.72,0.74,0.76,0.78,0.8,0.82,0.84,0.86,0.88], "format": ".1f", "labelOverlap": false, "labelExpr": "abs(datum.value*10 - round(datum.value*10)) < 0.001 ? datum.label : ''", "tickSize": {"condition": {"test": "abs(datum.value*10 - round(datum.value*10)) < 0.001", "value": -10}, "value": -5}, "labelPadding": 15, "title": "Jy", "titlePadding": 18}}}},
    {"data": {"name": "lm"},
     "mark": {"type": "point", "opacity": 0},
     "encoding": {"x": {"field": "t", "type": "quantitative", "scale": {"domain": [52690, 52770], "nice": false, "zero": false},
                        "axis": {"orient": "top", "values": [52690,52695,52700,52705,52710,52715,52720,52725,52730,52735,52740,52745,52750,52755,52760,52765,52770], "labels": false, "title": null, "tickSize": {"condition": {"test": "datum.value % 20 === 0", "value": -10}, "value": -5}}},
                  "y": {"field": "v", "type": "quantitative", "scale": {"domain": [0.3, 0.89], "nice": false, "zero": false},
                        "axis": {"orient": "right", "values": [0.32,0.34,0.36,0.38,0.4,0.42,0.44,0.46,0.48,0.5,0.52,0.54,0.56,0.58,0.6,0.62,0.64,0.66,0.68,0.7,0.72,0.74,0.76,0.78,0.8,0.82,0.84,0.86,0.88], "labels": false, "title": null, "tickSize": {"condition": {"test": "abs(datum.value*10 - round(datum.value*10)) < 0.001", "value": -10}, "value": -5}}}}},
    {"data": {"values": [{"s": "METSAHOVI 22 GHz"}]},
     "mark": {"type": "text", "align": "left", "baseline": "middle", "font": "DejaVu Serif", "fontSize": 21, "color": "#111"},
     "encoding": {"x": {"datum": 52695.1, "type": "quantitative", "scale": {"domain": [52690, 52770], "nice": false, "zero": false}, "axis": null},
                  "y": {"datum": 0.789, "type": "quantitative", "scale": {"domain": [0.3, 0.89], "nice": false, "zero": false}, "axis": null},
                  "text": {"field": "s"}}}
   ],
   "resolve": {"axis": {"x": "independent", "y": "independent"}}},
  {"width": 703, "height": 210,
   "layer": [
    {"data": {"name": "rdo"},
     "mark": {"type": "point", "shape": "diamond", "filled": false, "size": 150, "stroke": "#666", "strokeWidth": 1.4, "opacity": 1, "clip": true},
     "encoding": {"x": {"field": "t", "type": "quantitative", "scale": {"domain": [52950, 53148.2], "nice": false, "zero": false},
                        "axis": {"orient": "top", "values": [52950,52960,52970,52980,52990,53000,53010,53020,53030,53040,53050,53060,53070,53080,53090,53100,53110,53120,53130,53140], "labels": false, "title": null, "tickSize": {"condition": {"test": "datum.value % 50 === 0", "value": -10}, "value": -5}}},
                  "y": {"field": "v", "type": "quantitative", "scale": {"domain": [11.5, 14.0], "reverse": true, "nice": false, "zero": false},
                        "axis": {"orient": "right", "domain": false, "values": [11.6,11.7,11.8,11.9,12,12.1,12.2,12.3,12.4,12.5,12.6,12.7,12.8,12.9,13,13.1,13.2,13.3,13.4,13.5,13.6,13.7,13.8,13.9], "labels": false, "title": null, "tickSize": {"condition": {"test": "abs(datum.value*2 - round(datum.value*2)) < 0.001", "value": -10}, "value": -5}}}}},
    {"data": {"name": "rdd"},
     "mark": {"type": "point", "shape": "diamond", "filled": false, "size": 150, "stroke": "#222", "strokeWidth": 2.4, "opacity": 1, "clip": true},
     "encoding": {"x": {"field": "t", "type": "quantitative", "scale": {"domain": [52950, 53148.2], "nice": false, "zero": false}, "axis": null},
                  "y": {"field": "v", "type": "quantitative", "scale": {"domain": [11.5, 14.0], "reverse": true, "nice": false, "zero": false}, "axis": null}}},
    {"data": {"name": "rr"}, "transform": [{"filter": "datum.e > 0"}],
     "mark": {"type": "errorbar", "color": "#333", "thickness": 1.3, "clip": true},
     "encoding": {"x": {"field": "t", "type": "quantitative", "scale": {"domain": [52950, 53148.2], "nice": false, "zero": false}, "axis": null},
                  "y": {"field": "v", "type": "quantitative", "scale": {"domain": [11.5, 14.0], "reverse": true, "nice": false, "zero": false}, "axis": null},
                  "yError": {"field": "e"}}},
    {"data": {"name": "rr"},
     "mark": {"type": "point", "filled": true, "size": 64, "color": "#000", "opacity": 1, "clip": true},
     "encoding": {"x": {"field": "t", "type": "quantitative", "scale": {"domain": [52950, 53148.2], "nice": false, "zero": false},
                        "axis": {"orient": "bottom", "values": [52950,52960,52970,52980,52990,53000,53010,53020,53030,53040,53050,53060,53070,53080,53090,53100,53110,53120,53130,53140], "labels": false, "title": null, "tickSize": {"condition": {"test": "datum.value % 50 === 0", "value": -10}, "value": -5}}},
                  "y": {"field": "v", "type": "quantitative", "scale": {"domain": [11.5, 14.0], "reverse": true, "nice": false, "zero": false},
                        "axis": {"orient": "left", "values": [11.6,11.7,11.8,11.9,12,12.1,12.2,12.3,12.4,12.5,12.6,12.7,12.8,12.9,13,13.1,13.2,13.3,13.4,13.5,13.6,13.7,13.8,13.9], "format": ".1f", "labelOverlap": false, "labelExpr": "abs(datum.value*2 - round(datum.value*2)) < 0.001 ? datum.label : ''", "tickSize": {"condition": {"test": "abs(datum.value*2 - round(datum.value*2)) < 0.001", "value": -10}, "value": -5}, "labelPadding": 17, "title": "mag", "titlePadding": 5}}}},
    {"data": {"values": [{"s": "R Band"}]},
     "mark": {"type": "text", "align": "left", "baseline": "middle", "font": "DejaVu Serif", "fontSize": 21, "color": "#111"},
     "encoding": {"x": {"datum": 52960.3, "type": "quantitative", "scale": {"domain": [52950, 53148.2], "nice": false, "zero": false}, "axis": null},
                  "y": {"datum": 11.897, "type": "quantitative", "scale": {"domain": [11.5, 14.0], "reverse": true, "nice": false, "zero": false}, "axis": null},
                  "text": {"field": "s"}}}
   ],
   "resolve": {"axis": {"x": "independent", "y": "independent"}}},
  {"width": 50.5, "height": 210, "data": {"values": []}, "mark": "point"},
  {"width": 700, "height": 210,
   "layer": [
    {"data": {"name": "lu"}, "transform": [{"filter": "datum.e > 0"}],
     "mark": {"type": "errorbar", "color": "#333", "thickness": 1.3, "clip": true},
     "encoding": {"x": {"field": "t", "type": "quantitative", "scale": {"domain": [52690, 52770], "nice": false, "zero": false}, "axis": null},
                  "y": {"field": "v", "type": "quantitative", "scale": {"domain": [0.22, 0.995], "nice": false, "zero": false}, "axis": null},
                  "yError": {"field": "e"}}},
    {"data": {"name": "lu"},
     "mark": {"type": "point", "filled": true, "size": 64, "color": "#000", "opacity": 1},
     "encoding": {"x": {"field": "t", "type": "quantitative", "scale": {"domain": [52690, 52770], "nice": false, "zero": false},
                        "axis": {"orient": "bottom", "values": [52690,52695,52700,52705,52710,52715,52720,52725,52730,52735,52740,52745,52750,52755,52760,52765,52770], "format": ".0f", "labelOverlap": false, "labelExpr": "datum.value % 20 === 0 ? datum.label : ''", "tickSize": {"condition": {"test": "datum.value % 20 === 0", "value": -10}, "value": -5}, "labelPadding": 14, "title": "Modified Julian Date", "titlePadding": 1}},
                  "y": {"field": "v", "type": "quantitative", "scale": {"domain": [0.22, 0.995], "nice": false, "zero": false},
                        "axis": {"orient": "left", "values": [0.25,0.3,0.35,0.4,0.45,0.5,0.55,0.6,0.65,0.7,0.75,0.8,0.85,0.9,0.95], "format": ".1f", "labelOverlap": false, "labelExpr": "abs(datum.value*5 - round(datum.value*5)) < 0.001 ? datum.label : ''", "tickSize": {"condition": {"test": "abs(datum.value*5 - round(datum.value*5)) < 0.001", "value": -10}, "value": -5}, "labelPadding": 15, "title": "Jy", "titlePadding": 18}}}},
    {"data": {"name": "lu"},
     "mark": {"type": "point", "opacity": 0},
     "encoding": {"x": {"field": "t", "type": "quantitative", "scale": {"domain": [52690, 52770], "nice": false, "zero": false},
                        "axis": {"orient": "top", "values": [52690,52695,52700,52705,52710,52715,52720,52725,52730,52735,52740,52745,52750,52755,52760,52765,52770], "labels": false, "title": null, "tickSize": {"condition": {"test": "datum.value % 20 === 0", "value": -10}, "value": -5}}},
                  "y": {"field": "v", "type": "quantitative", "scale": {"domain": [0.22, 0.995], "nice": false, "zero": false},
                        "axis": {"orient": "right", "values": [0.25,0.3,0.35,0.4,0.45,0.5,0.55,0.6,0.65,0.7,0.75,0.8,0.85,0.9,0.95], "labels": false, "title": null, "tickSize": {"condition": {"test": "abs(datum.value*5 - round(datum.value*5)) < 0.001", "value": -10}, "value": -5}}}}},
    {"data": {"values": [{"s": "UMRAO 14.5 GHz"}]},
     "mark": {"type": "text", "align": "left", "baseline": "middle", "font": "DejaVu Serif", "fontSize": 21, "color": "#111"},
     "encoding": {"x": {"datum": 52695.1, "type": "quantitative", "scale": {"domain": [52690, 52770], "nice": false, "zero": false}, "axis": null},
                  "y": {"datum": 0.865, "type": "quantitative", "scale": {"domain": [0.22, 0.995], "nice": false, "zero": false}, "axis": null},
                  "text": {"field": "s"}}}
   ],
   "resolve": {"axis": {"x": "independent", "y": "independent"}}},
  {"width": 703, "height": 210,
   "layer": [
    {"data": {"name": "ru"}, "transform": [{"filter": "datum.e > 0"}],
     "mark": {"type": "errorbar", "color": "#333", "thickness": 1.3, "clip": true},
     "encoding": {"x": {"field": "t", "type": "quantitative", "scale": {"domain": [52950, 53148.2], "nice": false, "zero": false}, "axis": null},
                  "y": {"field": "v", "type": "quantitative", "scale": {"domain": [0.22, 0.995], "nice": false, "zero": false}, "axis": null},
                  "yError": {"field": "e"}}},
    {"data": {"name": "ru"},
     "mark": {"type": "point", "filled": true, "size": 64, "color": "#000", "opacity": 1, "clip": true},
     "encoding": {"x": {"field": "t", "type": "quantitative", "scale": {"domain": [52950, 53148.2], "nice": false, "zero": false},
                        "axis": {"orient": "bottom", "values": [52950,52960,52970,52980,52990,53000,53010,53020,53030,53040,53050,53060,53070,53080,53090,53100,53110,53120,53130,53140], "format": ".0f", "labelOverlap": false, "labelExpr": "datum.value % 50 === 0 && datum.value > 52950 ? datum.label : ''", "tickSize": {"condition": {"test": "datum.value % 50 === 0", "value": -10}, "value": -5}, "labelPadding": 25, "title": "Modified Julian Date", "titlePadding": 0}},
                  "y": {"field": "v", "type": "quantitative", "scale": {"domain": [0.22, 0.995], "nice": false, "zero": false},
                        "axis": {"orient": "left", "values": [0.25,0.3,0.35,0.4,0.45,0.5,0.55,0.6,0.65,0.7,0.75,0.8,0.85,0.9,0.95], "format": ".1f", "labelOverlap": false, "labelExpr": "abs(datum.value*5 - round(datum.value*5)) < 0.001 ? datum.label : ''", "tickSize": {"condition": {"test": "abs(datum.value*5 - round(datum.value*5)) < 0.001", "value": -10}, "value": -5}, "labelPadding": 17, "title": "Jy", "titlePadding": 17}}}},
    {"data": {"name": "ru"},
     "mark": {"type": "point", "opacity": 0},
     "encoding": {"x": {"field": "t", "type": "quantitative", "scale": {"domain": [52950, 53148.2], "nice": false, "zero": false},
                        "axis": {"orient": "top", "values": [52950,52960,52970,52980,52990,53000,53010,53020,53030,53040,53050,53060,53070,53080,53090,53100,53110,53120,53130,53140], "labels": false, "title": null, "tickSize": {"condition": {"test": "datum.value % 50 === 0", "value": -10}, "value": -5}}},
                  "y": {"field": "v", "type": "quantitative", "scale": {"domain": [0.22, 0.995], "nice": false, "zero": false},
                        "axis": {"orient": "right", "domain": false, "values": [0.25,0.3,0.35,0.4,0.45,0.5,0.55,0.6,0.65,0.7,0.75,0.8,0.85,0.9,0.95], "labels": false, "title": null, "tickSize": {"condition": {"test": "abs(datum.value*5 - round(datum.value*5)) < 0.001", "value": -10}, "value": -5}}}}},
    {"data": {"values": [{"s": "UMRAO 14.5 GHz"}]},
     "mark": {"type": "text", "align": "left", "baseline": "middle", "font": "DejaVu Serif", "fontSize": 21, "color": "#111"},
     "encoding": {"x": {"datum": 52960.3, "type": "quantitative", "scale": {"domain": [52950, 53148.2], "nice": false, "zero": false}, "axis": null},
                  "y": {"datum": 0.885, "type": "quantitative", "scale": {"domain": [0.22, 0.995], "nice": false, "zero": false}, "axis": null},
                  "text": {"field": "s"}}}
   ],
   "resolve": {"axis": {"x": "independent", "y": "independent"}}},
  {"width": 50.5, "height": 126, "data": {"values": []}, "mark": "point"},
  {"width": 700, "height": 126,
   "data": {"values": [{"s": "Time"}]},
   "layer": [
    {"mark": {"type": "text", "font": "Liberation Sans", "fontSize": 64, "color": "#ff0000", "align": "center", "baseline": "alphabetic"},
     "encoding": {"x": {"datum": 0.9753, "type": "quantitative", "scale": {"domain": [0, 1], "nice": false, "zero": false}, "axis": null},
                  "y": {"datum": 0.0317, "type": "quantitative", "scale": {"domain": [0, 1], "nice": false, "zero": false}, "axis": null},
                  "text": {"field": "s"}}},
    {"mark": {"type": "rule", "color": "#000", "strokeWidth": 9},
     "encoding": {"x": {"datum": 1.1461, "type": "quantitative", "scale": {"domain": [0, 1], "nice": false, "zero": false}, "axis": null},
                  "x2": {"datum": 1.3693},
                  "y": {"datum": 0.196, "type": "quantitative", "scale": {"domain": [0, 1], "nice": false, "zero": false}, "axis": null}}},
    {"mark": {"type": "point", "shape": "M1,0L-1,-1L-1,1Z", "size": 576, "filled": true, "color": "#000", "opacity": 1},
     "encoding": {"x": {"datum": 1.38, "type": "quantitative", "scale": {"domain": [0, 1], "nice": false, "zero": false}, "axis": null},
                  "y": {"datum": 0.196, "type": "quantitative", "scale": {"domain": [0, 1], "nice": false, "zero": false}, "axis": null}}}
   ]}
]
}
